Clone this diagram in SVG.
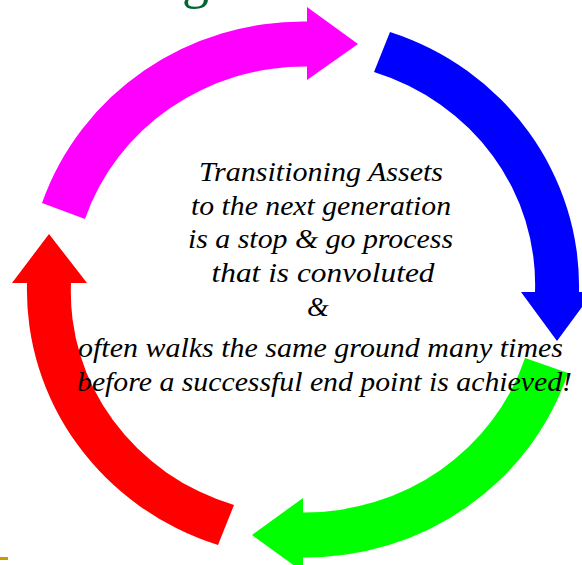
<svg xmlns="http://www.w3.org/2000/svg" width="582" height="565" viewBox="0 0 582 565">
  <style>
    .arrow { stroke: none; }
    .txt { font-style: italic; font-size: 28px; fill: #000000; text-anchor: middle; }
  </style>
  <rect x="0" y="0" width="582" height="565" fill="#ffffff"/>
  <text x="182" y="-3" font-family="Times New Roman" font-size="54" fill="#006633">g</text>
  <rect x="0" y="557" width="8" height="3" fill="#CC9900"/>
  <g id="connectors">
    <g id="arrow-magenta">
      <path class="arrow" fill="#FF00FF" d="M 42 203 A 276 268 0 0 1 307 21.5 L 307 7 L 358 44 L 307 80 L 307 66.5 A 232 223 0 0 0 85 219 Z"/>
    </g>
    <g id="arrow-blue">
      <path class="arrow" fill="#0000FF" d="M 390 32 A 276 268 0 0 1 579 292 L 593 292 L 557 341 L 521 292 L 535 292 A 232 223 0 0 0 374 72 Z"/>
    </g>
    <g id="arrow-green">
      <path class="arrow" fill="#00FF00" d="M 568 373 A 276 268 0 0 1 303 557.5 L 303 572 L 252 535 L 303 498 L 303 512.5 A 232 223 0 0 0 525 358 Z"/>
    </g>
    <g id="arrow-red">
      <path class="arrow" fill="#FF0000" d="M 218 545 A 276 268 0 0 1 27 283 L 12 283 L 49 234 L 87 283 L 71 283 A 232 223 0 0 0 234 505 Z"/>
    </g>
  </g>
  <g id="center-text" font-family="Times New Roman">
    <text class="txt" x="321" y="181" textLength="244" lengthAdjust="spacingAndGlyphs">Transitioning Assets</text>
    <text class="txt" x="321" y="215" textLength="260" lengthAdjust="spacingAndGlyphs">to the next generation</text>
    <text class="txt" x="320.5" y="248" textLength="265" lengthAdjust="spacingAndGlyphs">is a stop &amp; go process</text>
    <text class="txt" x="323" y="282" textLength="223" lengthAdjust="spacingAndGlyphs">that is convoluted</text>
    <text class="txt" x="318" y="316">&amp;</text>
    <text class="txt" x="320.5" y="357" textLength="485" lengthAdjust="spacingAndGlyphs">often walks the same ground many times</text>
    <text class="txt" x="324.5" y="391" textLength="495" lengthAdjust="spacingAndGlyphs">before a successful end point is achieved!</text>
  </g>
</svg>
